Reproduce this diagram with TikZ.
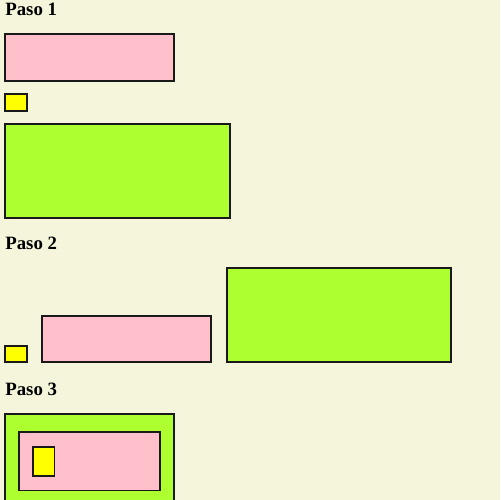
\documentclass[tikz,border=0pt]{standalone}
\usepackage{fontspec}
\setmainfont{Liberation Serif}
\definecolor{fondo}{HTML}{F5F5DC}
\definecolor{rosa}{HTML}{FFC0CB}
\definecolor{amarillo}{HTML}{FFFF00}
\definecolor{verde}{HTML}{ADFF2F}
\tikzset{
  caja/.style={draw=black!90, line width=1.1pt},
  titulo/.style={anchor=base west, inner sep=0pt, font=\fontsize{10.7}{12}\selectfont\bfseries}
}
\begin{document}
\begin{tikzpicture}[x=0.02cm, y=-0.02cm]
    \fill[fondo] (0,0) rectangle (500,500);
    \useasboundingbox (0,0) rectangle (500,500);
    \clip (0,0) rectangle (500,500);
    % paso 1
    \node[titulo] (p1) at (5,15.7){Paso 1};
    \draw[caja, fill=rosa] (5,34) rectangle (174,81);
    \draw[caja, fill=amarillo] (5,94) rectangle (27,111);
    \draw[caja, fill=verde] (5,124) rectangle (230,218);
    % paso 2
    \node[titulo] (p2) at (5,249.3){Paso 2};
    \draw[caja, fill=amarillo] (5,346) rectangle (27,362);
    \draw[caja, fill=rosa] (42,316) rectangle (211,362);
    \draw[caja, fill=verde] (227,268) rectangle (451,362);
    % paso 3
    \node[titulo] (p3) at (5,395.7){Paso 3};
    \draw[caja, fill=verde] (5,414) rectangle (174,530);
    \draw[caja, fill=rosa] (19,432) rectangle (160,490.5);
    \draw[caja, fill=amarillo] (33,447) rectangle (54.5,476);
\end{tikzpicture}
\end{document}
